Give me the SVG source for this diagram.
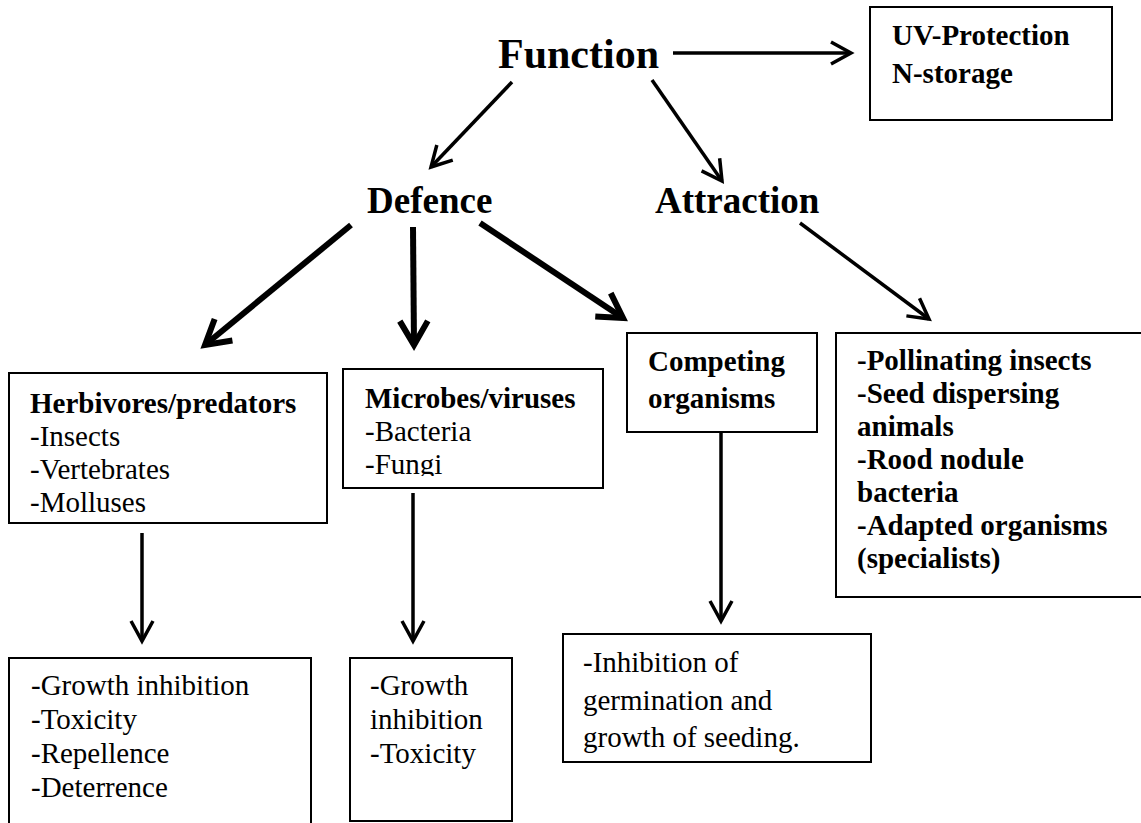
<svg xmlns="http://www.w3.org/2000/svg" width="1141" height="823" viewBox="0 0 1141 823">
<style>
  .bg { fill: #ffffff; }
  .box { fill: #ffffff; stroke: #000000; stroke-width: 2; }
  .t { font-family: "Liberation Serif", "Times New Roman", serif; font-size: 29px; fill: #000000; }
  .b { font-weight: bold; }
  .big { font-family: "Liberation Serif", "Times New Roman", serif; font-weight: bold; fill: #000000; }
  .thin { fill: none; stroke: #000000; stroke-width: 3.5; marker-end: url(#head); }
  .thick { fill: none; stroke: #000000; stroke-width: 6; marker-end: url(#headThick); }
</style>
<defs>
  <marker id="head" markerUnits="userSpaceOnUse" orient="auto" overflow="visible" refX="0" refY="0" markerWidth="1" markerHeight="1">
    <path d="M-20,-11 L0,0 L-20,11" fill="none" stroke="#000000" stroke-width="3.5" stroke-linejoin="miter"/>
  </marker>
  <marker id="headThick" markerUnits="userSpaceOnUse" orient="auto" overflow="visible" refX="0" refY="0" markerWidth="1" markerHeight="1">
    <path d="M-24,-14 L0,0 L-24,14" fill="none" stroke="#000000" stroke-width="6" stroke-linejoin="miter"/>
  </marker>
  <clipPath id="clipMicrobes"><rect x="343" y="369" width="260" height="107"/></clipPath>
  <clipPath id="clipComp"><rect x="563" y="634" width="308" height="119"/></clipPath>
</defs>
<rect class="bg" x="0" y="0" width="1141" height="823"/>

<g id="connectors">
  <line class="thin" x1="673" y1="53" x2="851" y2="53"/>
  <line class="thin" x1="512" y1="82" x2="431" y2="167"/>
  <line class="thin" x1="652" y1="80" x2="722" y2="181"/>
  <line class="thick" x1="351" y1="225" x2="205" y2="345"/>
  <line class="thick" x1="413" y1="227" x2="414" y2="345"/>
  <line class="thick" x1="480" y1="223" x2="623" y2="318"/>
  <line class="thin" x1="800" y1="223" x2="929" y2="319"/>
  <line class="thin" x1="142" y1="533" x2="142" y2="641"/>
  <line class="thin" x1="413" y1="493" x2="413" y2="641"/>
  <line class="thin" x1="721" y1="432" x2="721" y2="621"/>
</g>

<g id="function">
  <text class="big" x="498" y="68" font-size="42">Function</text>
</g>
<g id="defence">
  <text class="big" x="367" y="213" font-size="37">Defence</text>
</g>
<g id="attraction">
  <text class="big" x="655" y="213" font-size="37">Attraction</text>
</g>

<g id="uv-box">
  <rect class="box" x="870" y="7" width="242" height="113"/>
  <text class="t b" x="892" y="45">UV-Protection</text>
  <text class="t b" x="892" y="83">N-storage</text>
</g>

<g id="herbivores">
  <rect class="box" x="9" y="373" width="318" height="150"/>
  <text class="t b" x="30" y="413">Herbivores/predators</text>
  <text class="t" x="30" y="446">-Insects</text>
  <text class="t" x="30" y="479">-Vertebrates</text>
  <text class="t" x="30" y="512">-Molluses</text>
</g>

<g id="microbes">
  <rect class="box" x="343" y="369" width="260" height="119"/>
  <g clip-path="url(#clipMicrobes)">
    <text class="t b" x="365" y="408">Microbes/viruses</text>
    <text class="t" x="365" y="441">-Bacteria</text>
    <text class="t" x="365" y="474">-Fungi</text>
  </g>
</g>

<g id="competing">
  <rect class="box" x="627" y="333" width="190" height="99"/>
  <text class="t b" x="648" y="371">Competing</text>
  <text class="t b" x="648" y="408">organisms</text>
</g>

<g id="attraction-targets">
  <rect class="box" x="836" y="333" width="320" height="264"/>
  <text class="t b" x="857" y="370">-Pollinating insects</text>
  <text class="t b" x="857" y="403">-Seed dispersing</text>
  <text class="t b" x="857" y="436">animals</text>
  <text class="t b" x="857" y="469">-Rood nodule</text>
  <text class="t b" x="857" y="502">bacteria</text>
  <text class="t b" x="857" y="535">-Adapted organisms</text>
  <text class="t b" x="857" y="568">(specialists)</text>
</g>

<g id="herbivore-effects">
  <rect class="box" x="9" y="658" width="302" height="180"/>
  <text class="t" x="31" y="695">-Growth inhibition</text>
  <text class="t" x="31" y="729">-Toxicity</text>
  <text class="t" x="31" y="763">-Repellence</text>
  <text class="t" x="31" y="797">-Deterrence</text>
</g>

<g id="microbe-effects">
  <rect class="box" x="350" y="658" width="162" height="163"/>
  <text class="t" x="370" y="695">-Growth</text>
  <text class="t" x="370" y="729">inhibition</text>
  <text class="t" x="370" y="763">-Toxicity</text>
</g>

<g id="competing-effects">
  <rect class="box" x="563" y="634" width="308" height="128"/>
  <g clip-path="url(#clipComp)">
    <text class="t" x="583" y="672">-Inhibition of</text>
    <text class="t" x="583" y="710">germination and</text>
    <text class="t" x="583" y="747">growth of seeding.</text>
  </g>
</g>
</svg>
